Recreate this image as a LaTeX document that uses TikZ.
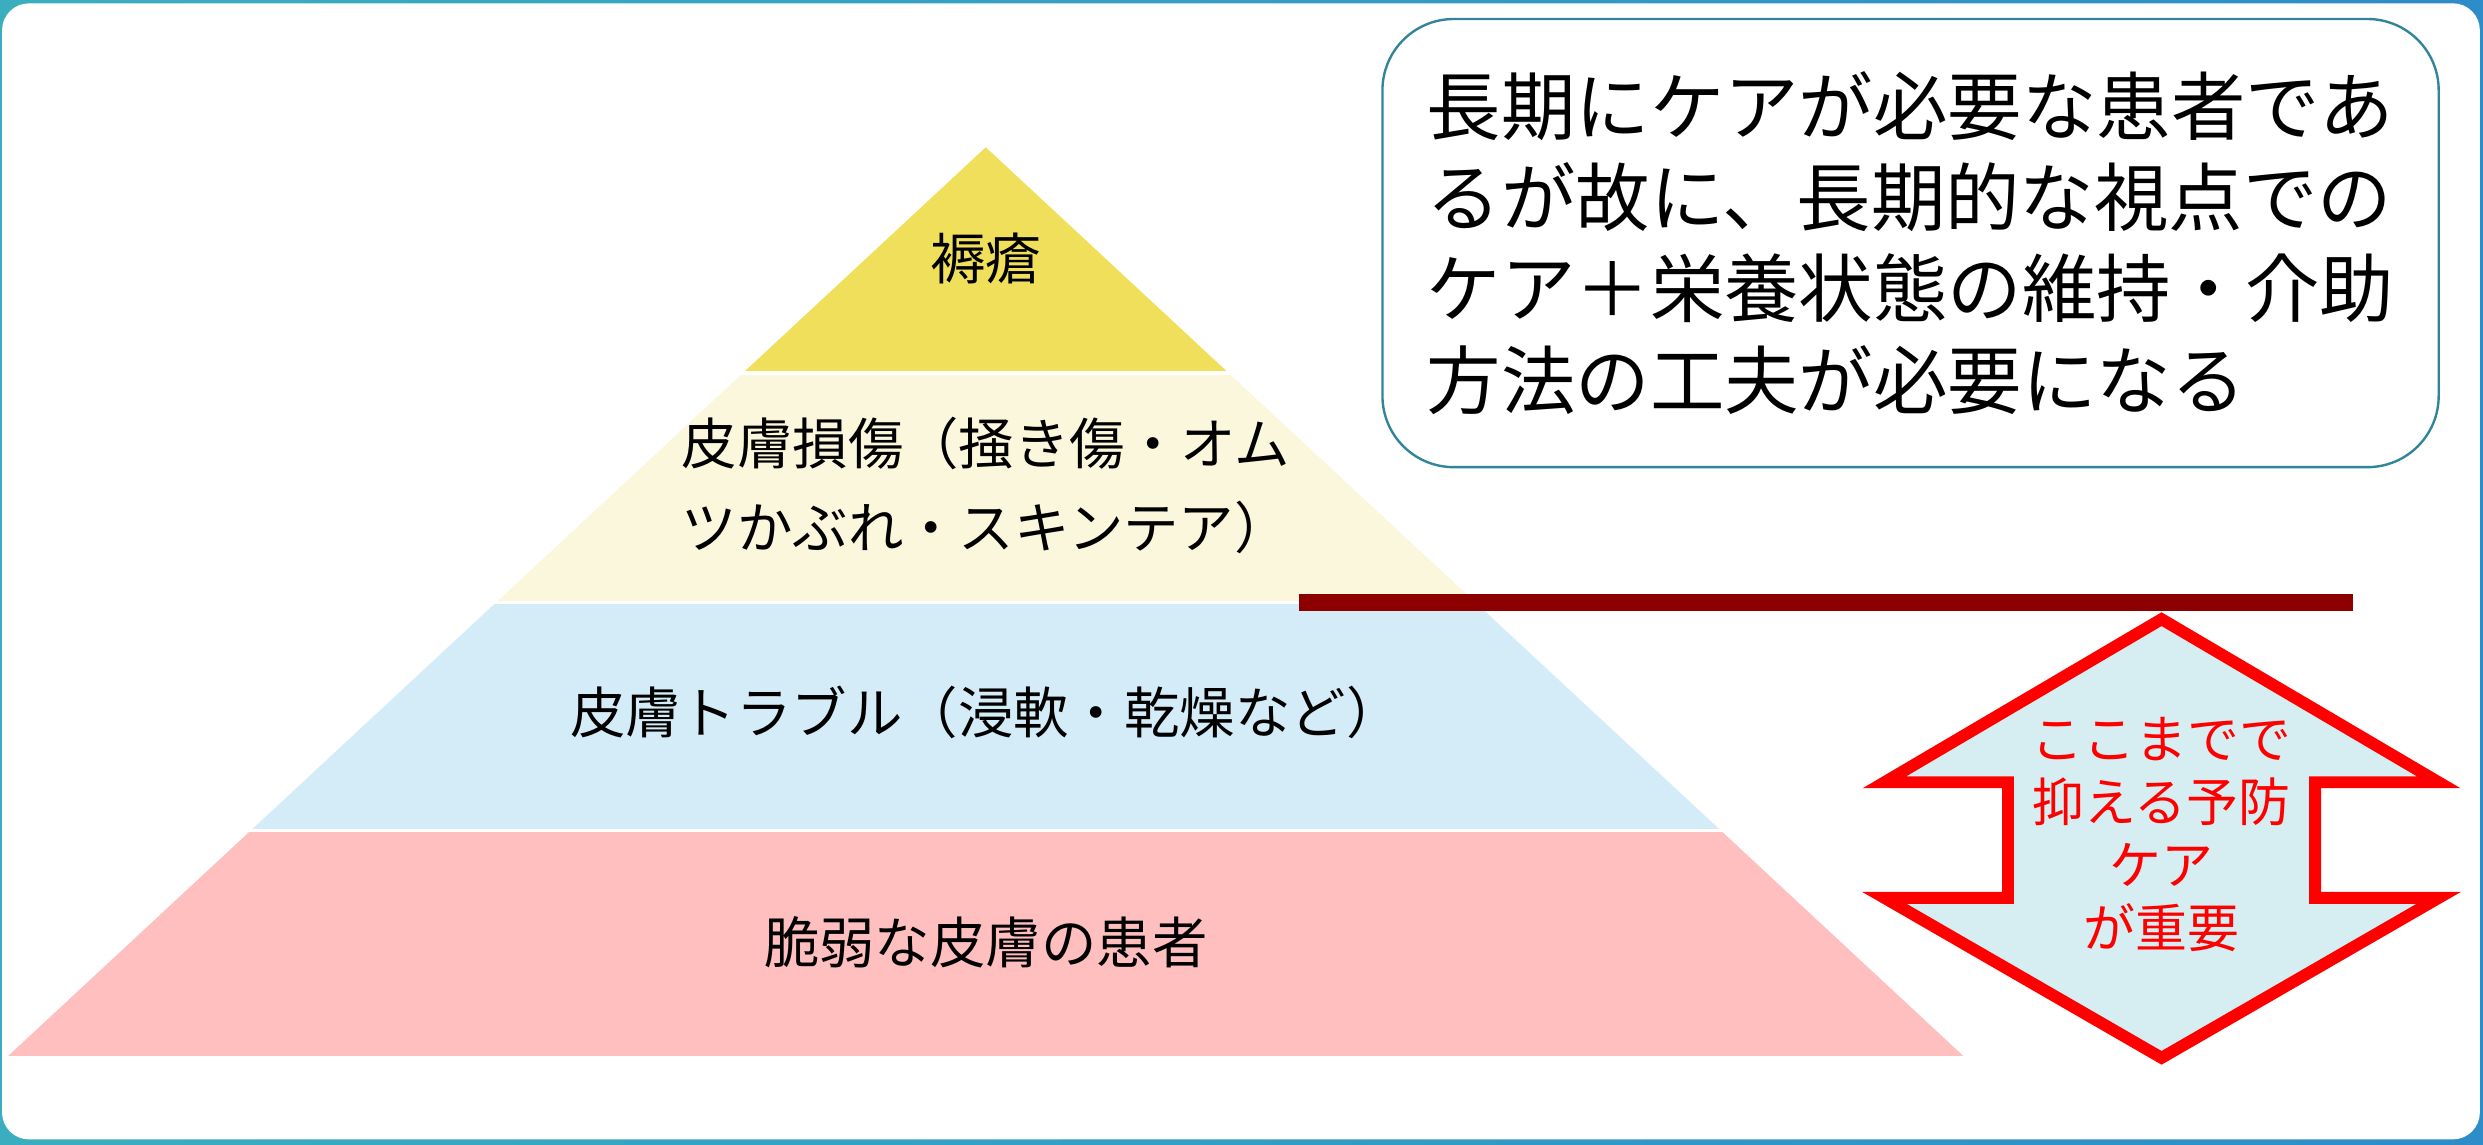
\documentclass[tikz,border=0pt]{standalone}
\usepackage{fontspec}
\setmainfont{Noto Sans CJK JP}
\definecolor{frameA}{RGB}{58,174,190}
\definecolor{frameB}{RGB}{46,140,200}
\definecolor{lvY}{RGB}{240,223,90}
\definecolor{lvC}{RGB}{251,247,220}
\definecolor{lvB}{RGB}{212,236,247}
\definecolor{lvP}{RGB}{255,191,191}
\definecolor{callborder}{RGB}{49,133,155}
\definecolor{barred}{RGB}{140,0,0}
\definecolor{arrowfill}{RGB}{214,238,242}
\begin{document}
\begin{tikzpicture}[x=0.5pt,y=-0.5pt,
  pyrtext/.style={font=\fontsize{17.5}{26.5}\selectfont, align=center, text=black, inner sep=0pt},
  calltext/.style={font=\fontsize{23.5}{28.75}\selectfont, align=left, text=black, inner sep=0pt},
  arrowtext/.style={font=\fontsize{16.4}{19.8}\selectfont, align=center, text=red, inner sep=0pt},
  bandfill/.style={draw=none}]
\useasboundingbox (0,0) rectangle (1568,723);
\fill[left color=frameA, right color=frameB] (0,0) rectangle (1568,723);
\fill[white, rounded corners=8.5pt] (1.3,2.1) rectangle (1566,719.5);
% pyramid
\begin{scope}
\clip (5,667) -- (622.5,93) -- (1240,667) -- cycle;
\fill[lvY] (0,90) rectangle (1300,234.5);
\fill[lvC] (0,236.5) rectangle (1300,379.5);
\fill[lvB] (0,381.5) rectangle (1300,523.5);
\fill[lvP] (0,525.5) rectangle (1300,667);
\end{scope}
\node[pyrtext] (t1) at (622.5,163) {褥瘡};
\node[pyrtext] (t2) at (622.5,306.5) {皮膚損傷（掻き傷・オム\\ツかぶれ・スキンテア）};
\node[pyrtext] (t3) at (622.5,450) {皮膚トラブル（浸軟・乾燥など）};
\node[pyrtext] (t4) at (622.5,595) {脆弱な皮膚の患者};
% callout
\draw[callborder, line width=0.75pt, fill=white, rounded corners=22.5pt] (873,12) rectangle (1540,295);
\node[calltext] (call) at (1206.5,153.5) {長期にケアが必要な患者であ\\るが故に、長期的な視点での\\ケア＋栄養状態の維持・介助\\方法の工夫が必要になる};
% bar
\coordinate (barL) at (820,380.5);
\coordinate (barR) at (1486,380.5);
\draw[barred, line width=5.25pt] (barL) -- (barR);
% double arrow
\draw[red, line width=3.75pt, fill=arrowfill, line join=miter]
  (1365,391) -- (1540,494) -- (1462,494) -- (1462,567) -- (1540,567) -- (1365,668)
  -- (1190,567) -- (1268,567) -- (1268,494) -- (1190,494) -- cycle;
\node[arrowtext] (atext) at (1365,527) {ここまでで\\抑える予防\\ケア\\が重要};
\end{tikzpicture}
\end{document}
